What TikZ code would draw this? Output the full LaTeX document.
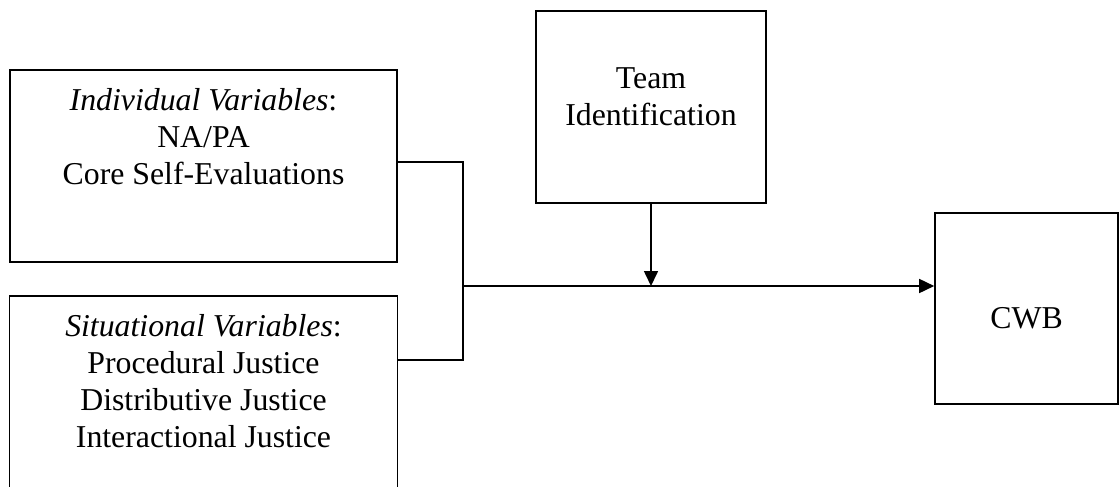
\documentclass[tikz,border=0pt]{standalone}
\usepackage{fontspec}
\setmainfont{Liberation Serif}
\usetikzlibrary{arrows.meta}

\begin{document}
\begin{tikzpicture}[x=1pt, y=-1pt]
    % Styles
    \tikzstyle{box} = [rectangle, draw=black, line width=1.6pt, inner sep=0pt]
    \tikzstyle{txt} = [align=center, inner sep=0pt, anchor=base, font=\fontsize{31.8}{37}\selectfont]
    \tikzstyle{line} = [line width=1.6pt]
    \tikzstyle{arrow} = [line width=1.6pt, -{Triangle[length=15pt, width=14pt]}]

    \useasboundingbox (0,0) rectangle (1119,487);
    \clip (0,0) rectangle (1119,487);

    % Boxes
    \node[box, minimum width=387pt, minimum height=192pt] (indiv) at (203.5,166) {};
    \node[box, minimum width=388pt, minimum height=220pt] (situ) at (203.5,406) {};
    \node[box, minimum width=230pt, minimum height=192pt] (team) at (651,107) {};
    \node[box, minimum width=183pt, minimum height=191pt] (cwb) at (1026.5,308.5) {};

    % Texts (anchored at the baseline of the last line)
    \node[txt] (indivtxt) at (203.5,184) {\textit{Individual Variables}:\\NA/PA\\Core Self-Evaluations};
    \node[txt] (situtxt) at (203.5,447) {\textit{Situational Variables}:\\Procedural Justice\\Distributive Justice\\Interactional Justice};
    \node[txt] (teamtxt) at (651,125) {Team\\Identification};
    \node[txt] (cwbtxt) at (1026.5,328) {CWB};

    % Connectors
    \coordinate (joint) at (463,286);
    \draw[line] ([yshift=4pt]indiv.east) -| (joint) |- ([yshift=46pt]situ.east);
    \draw[arrow] (joint) -- (joint -| cwb.west);
    \draw[arrow] (team.south) -- (team.south |- joint);
\end{tikzpicture}
\end{document}
